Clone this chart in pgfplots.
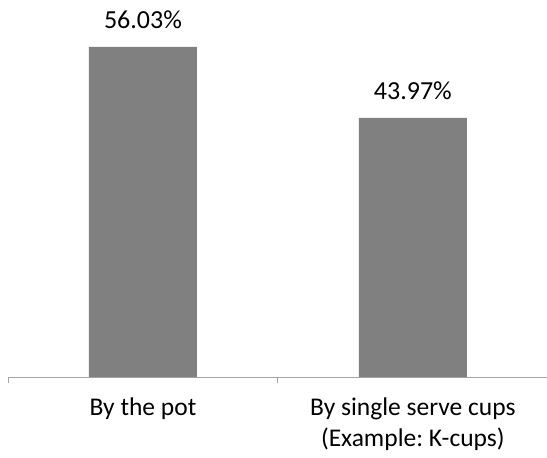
\documentclass[border=0pt]{standalone}
\usepackage{pgfplots}
\pgfplotsset{compat=1.18}
\usepackage{fontspec}
\setmainfont{Carlito}
\frenchspacing
\definecolor{barg}{HTML}{808080}
\definecolor{axg}{HTML}{A6A6A6}
\begin{document}
\begin{tikzpicture}
\path[use as bounding box] (0,0) rectangle (547bp,458bp);
\begin{axis}[
  at={(8bp,81bp)}, anchor=south west,
  scale only axis, width=539bp, height=377bp,
  xmin=-0.5, xmax=1.497, ymin=0, ymax=64,
  axis x line*=bottom, axis y line=none,
  x axis line style={axg, line width=1bp, -},
  xtick={0,1},
  xticklabels={By the pot, {By single serve cups\\(Example: K-cups)}},
  xticklabel style={align=center, font=\fontsize{25.5bp}{31bp}\selectfont, text=black, yshift=-17bp},
  major tick length=0pt,
  extra x ticks={-0.5,0.5},
  extra x tick labels={},
  extra x tick style={major tick length=6bp, tick align=outside, tick style={axg, line width=1bp}},
  ybar, bar width=108bp,
  clip=false,
  nodes near coords={\pgfmathprintnumber[fixed,fixed zerofill,precision=2]{\pgfplotspointmeta}\%},
  nodes near coords style={font=\fontsize{26bp}{30bp}\selectfont, text=black, yshift=15bp},
  /pgf/number format/assume math mode=true,
]
\addplot[fill=barg, draw=none] coordinates {(0,56.03) (1,43.97)};
\end{axis}
\end{tikzpicture}
\end{document}
